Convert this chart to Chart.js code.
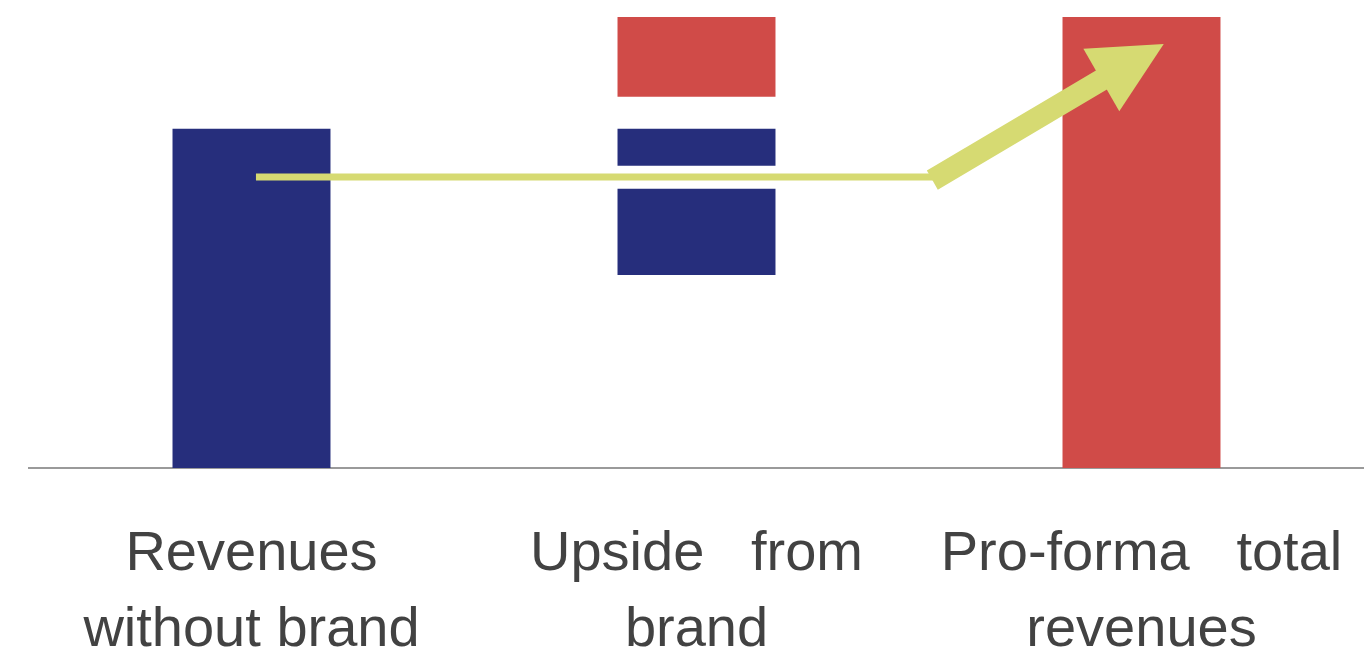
<!DOCTYPE html>
<html>
<head>
<meta charset="utf-8">
<script src="https://cdn.jsdelivr.net/npm/chart.js@4.4.1/dist/chart.umd.min.js"></script>
<style>
  html, body { margin: 0; padding: 0; background: #ffffff; }
  #wrap { width: 1364px; height: 657px; position: relative; }
</style>
</head>
<body>
<div id="wrap"><canvas id="c" width="1364" height="657"></canvas></div>
<script>
// ---- data ----
const categories = [
  ["Revenues", "without brand"],
  ["Upside   from", "brand"],
  ["Pro-forma   total", "revenues"]
];
// floating bar segments [low, high] on a 0-100 scale
const baseSegments   = [[0, 75.2], [42.8, 61.9], null];
const upsideSegments = [null, [67.0, 75.2], null];
const redSegments    = [null, [82.3, 100], [0, 100]];
// arrow path: x in category-index units, y in value units
const arrowX = [0.01, 1.53, 2.05];
const arrowY = [64.5, 64.5, 94.0];

const BLUE = '#262E7C';
const RED = '#D04B48';
const YELLOW = '#D6DA72';

const arrowPlugin = {
  id: 'arrow',
  afterDatasetsDraw(chart) {
    const ctx = chart.ctx;
    const xs = chart.scales.x, ys = chart.scales.y;
    const p0 = xs.getPixelForValue(0), p1 = xs.getPixelForValue(1);
    const px = v => p0 + v * (p1 - p0);
    const pts = arrowX.map((v, i) => ({ x: px(v), y: ys.getPixelForValue(arrowY[i]) }));
    ctx.save();
    ctx.fillStyle = YELLOW;
    ctx.strokeStyle = YELLOW;
    // thin segment
    ctx.lineWidth = 7;
    ctx.lineCap = 'butt';
    ctx.beginPath();
    ctx.moveTo(pts[0].x, pts[0].y);
    ctx.lineTo(pts[1].x + 2, pts[1].y);
    ctx.stroke();
    // thick shaft + head
    const a = pts[1], b = pts[2];
    const dx = b.x - a.x, dy = b.y - a.y;
    const len = Math.hypot(dx, dy);
    const ux = dx / len, uy = dy / len;
    const nx = -uy, ny = ux;
    const headLen = 72, headW = 72, shaftW = 22;
    const bx = b.x - ux * headLen, by = b.y - uy * headLen;
    const sx = a.x, sy = a.y + 3;
    ctx.beginPath();
    ctx.moveTo(sx + nx * shaftW / 2, sy + ny * shaftW / 2);
    ctx.lineTo(bx + ux * 4 + nx * shaftW / 2, by + uy * 4 + ny * shaftW / 2);
    ctx.lineTo(bx + ux * 4 - nx * shaftW / 2, by + uy * 4 - ny * shaftW / 2);
    ctx.lineTo(sx - nx * shaftW / 2, sy - ny * shaftW / 2);
    ctx.closePath();
    ctx.fill();
    ctx.beginPath();
    ctx.moveTo(b.x, b.y);
    ctx.lineTo(bx + nx * headW / 2, by + ny * headW / 2);
    ctx.lineTo(bx - nx * headW / 2, by - ny * headW / 2);
    ctx.closePath();
    ctx.fill();
    ctx.restore();
  }
};

new Chart(document.getElementById('c'), {
  type: 'bar',
  data: {
    labels: categories,
    datasets: [
      { data: baseSegments, backgroundColor: BLUE },
      { data: upsideSegments, backgroundColor: BLUE },
      { data: redSegments, backgroundColor: RED }
    ]
  },
  options: {
    responsive: false,
    animation: false,
    maintainAspectRatio: false,
    layout: { padding: { left: 29, top: 17, right: 0, bottom: 0 } },
    plugins: { legend: { display: false }, tooltip: { enabled: false } },
    datasets: { bar: { barPercentage: 0.355, categoryPercentage: 1.0, borderWidth: 0 } },
    scales: {
      x: {
        stacked: true,
        grid: { display: false, drawTicks: false },
        border: { display: true, color: '#9a9a9a', width: 2 },
        ticks: {
          color: '#424242',
          padding: 48,
          maxRotation: 0,
          autoSkip: false,
          font: { family: '"Liberation Sans", Arial, sans-serif', size: 56, lineHeight: 1.36 }
        },
        afterFit(scale) {
          scale.height = 189;
          scale.paddingLeft = 0;
          scale.paddingRight = 0;
        }
      },
      y: {
        display: false,
        min: 0,
        max: 100
      }
    }
  },
  plugins: [arrowPlugin]
});
</script>
</body>
</html>
